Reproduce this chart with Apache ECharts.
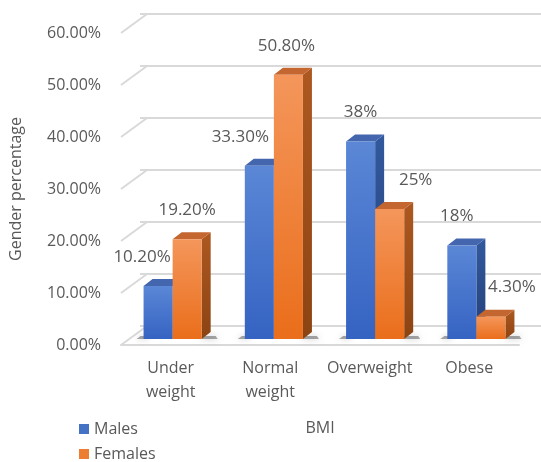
<!DOCTYPE html>
<html>
<head>
<meta charset="utf-8">
<script src="https://cdn.jsdelivr.net/npm/echarts@6/dist/echarts.min.js"></script>
<style>
  html, body { margin: 0; padding: 0; background: #ffffff; }
  #chart { width: 541px; height: 462px; }
</style>
</head>
<body>
<div id="chart"></div>
<script>
// BMI categories and share of each gender (percent)
const categories = ['Under\nweight', 'Normal\nweight', 'Overweight', 'Obese'];
const males = [10.2, 33.3, 38, 18];
const females = [19.2, 50.8, 25, 4.3];
const maleLabels = ['10.20%', '33.30%', '38%', '18%'];
const femaleLabels = ['19.20%', '50.80%', '25%', '4.30%'];
const yTicks = [0, 10, 20, 30, 40, 50, 60];

// horizontal nudges for the value labels, in pixels
const maleLabelShift = [-16, -19, 0, -5];
const femaleLabelShift = [0, -2, 26, 21];

const FONT = '"Open Sans", "Noto Sans", sans-serif';
const TEXT = '#595959';
const GRID_LINE = '#D9D9D9';
const DEPTH_X = 26, DEPTH_Y = -19;   // wall depth
const BAR_DX = 9, BAR_DY = -7;       // bar depth
const BAR_FRAC = 0.287;

const palette = {
  male: {
    front: ['#5B87D6', '#3563C2'],
    side: ['#32599E', '#243F78'],
    top: '#4366AE',
    legend: '#4472C4'
  },
  female: {
    front: ['#F4965B', '#EA6E1B'],
    side: ['#AD5820', '#8C4413'],
    top: '#C4662F',
    legend: '#ED7D31'
  }
};

function grad(c) {
  return new echarts.graphic.LinearGradient(0, 0, 0, 1, [
    { offset: 0, color: c[0] }, { offset: 1, color: c[1] }
  ]);
}

function barRenderer(isMale, labels, shifts) {
  const pal = isMale ? palette.male : palette.female;
  return function (params, api) {
    const i = api.value(0);
    const v = api.value(1);
    const top = api.coord([i, v]);
    const base = api.coord([i, 0]);
    const bw = api.size([1, 0])[0] * BAR_FRAC;
    const x0 = isMale ? top[0] - bw : top[0];
    const x1 = x0 + bw;
    const yt = top[1];
    const yb = base[1];
    const cx = (x0 + x1) / 2;
    const children = [];
    // soft contact shadow on the floor
    children.push({
      type: 'polygon',
      shape: isMale
        ? { points: [[x0 - 7, yb], [x0 + 4, yb], [x0 + 6, yb - 3], [x0 - 3, yb - 3]] }
        : { points: [[x1, yb], [x1 + BAR_DX + 7, yb], [x1 + BAR_DX + 5, yb - 3], [x1, yb - 3]] },
      style: { fill: 'rgba(40,40,40,0.4)', shadowBlur: 6, shadowColor: 'rgba(0,0,0,0.55)' },
      z2: 0
    });
    children.push({
      type: 'polygon',
      shape: { points: [[x1, yt], [x1 + BAR_DX, yt + BAR_DY], [x1 + BAR_DX, yb + BAR_DY], [x1, yb]] },
      style: { fill: grad(pal.side) },
      z2: 1
    });
    children.push({
      type: 'polygon',
      shape: { points: [[x0, yt], [x0 + BAR_DX, yt + BAR_DY], [x1 + BAR_DX, yt + BAR_DY], [x1, yt]] },
      style: { fill: pal.top },
      z2: 1
    });
    children.push({
      type: 'rect',
      shape: { x: x0, y: yt, width: bw, height: yb - yt },
      style: { fill: grad(pal.front) },
      z2: 2
    });
    children.push({
      type: 'text',
      x: cx + shifts[i],
      y: yt - 29,
      style: {
        text: labels[i],
        fill: TEXT,
        font: '17px ' + FONT,
        align: 'center',
        verticalAlign: 'middle'
      },
      z2: 3
    });
    return { type: 'group', children: children };
  };
}

const chart = echarts.init(document.getElementById('chart'), null, { renderer: 'canvas' });

const legendText = { color: TEXT, fontSize: 16, fontFamily: FONT };

chart.setOption({
  backgroundColor: '#ffffff',
  animation: false,
  textStyle: { fontFamily: FONT },
  grid: [
    // plane where the bars stand
    { left: 122, width: 405, top: 27, height: 312 },
    // front plane: axis labels and floor edge
    { left: 114, width: 405, top: 33, height: 312 },
    // back wall: gridlines
    { left: 140, right: 0, top: 14, height: 312 }
  ],
  xAxis: [
    { type: 'category', gridIndex: 0, data: categories, show: false },
    {
      type: 'category', gridIndex: 1, data: categories,
      axisLine: { show: true, lineStyle: { color: GRID_LINE, width: 2 } },
      axisTick: { show: false },
      axisLabel: { color: TEXT, fontSize: 16, fontFamily: FONT, lineHeight: 24, margin: 11, interval: 0, align: 'center' },
      name: 'BMI', nameLocation: 'middle', nameGap: 75,
      nameTextStyle: { color: TEXT, fontSize: 16, fontFamily: FONT }
    },
    { type: 'value', gridIndex: 2, show: false, min: 0, max: 1 }
  ],
  yAxis: [
    { type: 'value', gridIndex: 0, min: 0, max: 60, interval: 10, show: false },
    {
      type: 'value', gridIndex: 1, min: 0, max: 60, interval: 10,
      axisLine: { show: false }, axisTick: { show: false }, splitLine: { show: false },
      axisLabel: {
        color: TEXT, fontSize: 16, fontFamily: FONT, margin: 20,
        formatter: function (v) { return v.toFixed(2) + '%'; }
      },
      name: 'Gender percentage', nameLocation: 'middle', nameRotate: 90, nameGap: 97,
      nameTextStyle: { color: TEXT, fontSize: 16, fontFamily: FONT }
    },
    {
      type: 'value', gridIndex: 2, min: 0, max: 60, interval: 10,
      axisLine: { show: false }, axisTick: { show: false }, axisLabel: { show: false },
      splitLine: { show: true, lineStyle: { color: GRID_LINE, width: 2 } }
    }
  ],
  legend: [
    {
      left: 74, top: 416, itemWidth: 10, itemHeight: 10, itemGap: 4,
      icon: 'rect', textStyle: legendText, data: ['Males']
    },
    {
      left: 74, top: 441, itemWidth: 10, itemHeight: 10, itemGap: 4,
      icon: 'rect', textStyle: legendText, data: ['Females']
    }
  ],
  series: [
    {
      // side-wall diagonals joining the front labels to the back gridlines
      type: 'custom',
      xAxisIndex: 1, yAxisIndex: 1,
      silent: true,
      z: 1,
      data: yTicks.map(function (t) { return [0, t]; }),
      renderItem: function (params, api) {
        const y = api.coord([0, api.value(1)])[1];
        const x = params.coordSys.x;
        return {
          type: 'line',
          shape: { x1: x, y1: y, x2: x + DEPTH_X, y2: y + DEPTH_Y },
          style: { stroke: GRID_LINE, lineWidth: 2 }
        };
      }
    },
    {
      name: 'Males',
      type: 'custom',
      xAxisIndex: 0, yAxisIndex: 0,
      z: 3,
      itemStyle: { color: palette.male.legend },
      data: males.map(function (v, i) { return [i, v]; }),
      renderItem: barRenderer(true, maleLabels, maleLabelShift)
    },
    {
      name: 'Females',
      type: 'custom',
      xAxisIndex: 0, yAxisIndex: 0,
      z: 4,
      itemStyle: { color: palette.female.legend },
      data: females.map(function (v, i) { return [i, v]; }),
      renderItem: barRenderer(false, femaleLabels, femaleLabelShift)
    }
  ]
});
</script>
</body>
</html>
